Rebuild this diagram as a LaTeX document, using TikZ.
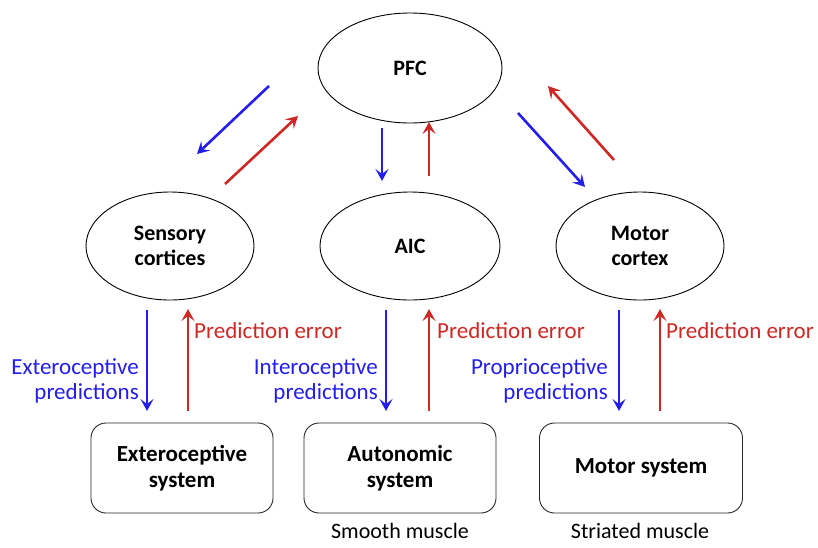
\documentclass[tikz,border=0pt]{standalone}
\usepackage{fontspec}
\setmainfont{Carlito}
\usetikzlibrary{arrows.meta,positioning,shapes.geometric}

\definecolor{predblue}{RGB}{35,30,235}
\definecolor{errred}{RGB}{205,40,35}

\begin{document}
\begin{tikzpicture}[
  x=1pt, y=-1pt,
  area/.style={ellipse, draw, line width=0.9pt, minimum width=168pt, minimum height=108pt,
    inner sep=0pt, font=\fontsize{22}{25}\selectfont\bfseries, align=center},
  system/.style={draw=black!85, rounded corners=15pt, line width=0.9pt, minimum width=180pt,
    minimum height=90pt, font=\fontsize{23}{26}\selectfont\bfseries, align=center},
  down/.style={predblue, line width=2.6pt, -{Stealth[length=12pt,width=13pt,inset=5pt]}},
  up/.style={errred, line width=2.6pt, -{Stealth[length=12pt,width=13pt,inset=5pt]}},
  pred/.style={predblue, font=\fontsize{23}{25}\selectfont, align=right, anchor=east, inner sep=2pt},
  err/.style={errred, font=\fontsize{23}{25}\selectfont, anchor=west, inner sep=2pt},
  muscle/.style={font=\fontsize{22}{25}\selectfont}
  ]
\useasboundingbox (0,0) rectangle (818,547);

% cortical levels
\node[area, minimum width=184pt, minimum height=110pt] (pfc) at (410,68) {PFC};
\node[area] (sensory) at (170,246) {Sensory\\cortices};
\node[area, minimum width=180pt] (aic) at (410,246) {AIC};
\node[area] (motor) at (640,246) {Motor\\cortex};

% peripheral systems
\node[system, minimum width=182pt] (extero) at (182,468) {Exteroceptive\\system};
\node[system, minimum width=192pt] (auto) at (400,468) {Autonomic\\system};
\node[system, minimum width=203pt] (motsys) at (641,468) {Motor system};
\node[muscle] (smooth) at (400,531) {Smooth muscle};
\node[muscle] (striated) at (640,531) {Striated muscle};

% PFC <-> middle level
\coordinate (pfc-s1) at (269,86);   \coordinate (sen-n1) at (197,154);
\coordinate (sen-n2) at (225,184);  \coordinate (pfc-s2) at (298,116);
\coordinate (pfc-s3) at (382,128);  \coordinate (aic-n1) at (382,181);
\coordinate (aic-n2) at (429,176);  \coordinate (pfc-s4) at (429,122);
\coordinate (pfc-s5) at (518,113);  \coordinate (mot-n1) at (585,187);
\coordinate (mot-n2) at (614,160);  \coordinate (pfc-s6) at (548,86);
\draw[down] (pfc-s1) -- (sen-n1);
\draw[up] (sen-n2) -- (pfc-s2);
\draw[down] (pfc-s3) -- (aic-n1);
\draw[up] (aic-n2) -- (pfc-s4);
\draw[down] (pfc-s5) -- (mot-n1);
\draw[up] (mot-n2) -- (pfc-s6);

% middle level <-> systems
\foreach \src/\dst/\bx/\rx in {sensory/extero/147/188, aic/auto/386/429, motor/motsys/619/660}{
  \coordinate (\src-b) at (\bx,310); \coordinate (\dst-b) at (\bx,411);
  \coordinate (\dst-r) at (\rx,411); \coordinate (\src-r) at (\rx,309);
  \draw[down] (\src-b) -- (\dst-b);
  \draw[up] (\dst-r) -- (\src-r);
}

% labels
\node[err] (err1) at (192,331) {Prediction error};
\node[err] (err2) at (435,331) {Prediction error};
\node[err] (err3) at (664,331) {Prediction error};
\node[pred] (pred1) at (141,381) {Exteroceptive\\predictions};
\node[pred] (pred2) at (380,381) {Interoceptive\\predictions};
\node[pred] (pred3) at (610,381) {Proprioceptive\\predictions};
\end{tikzpicture}
\end{document}
